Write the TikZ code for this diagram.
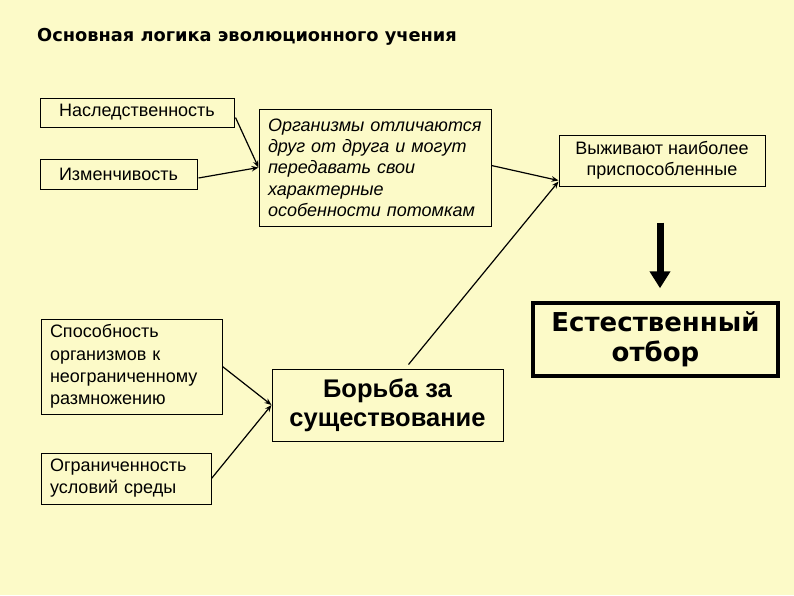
\documentclass[tikz,border=0pt]{standalone}
\usepackage{fontspec}
\setmainfont{Liberation Sans}
\newfontfamily\heavyfont{DejaVu Sans}
\usetikzlibrary{calc}
\usetikzlibrary{arrows.meta}
\definecolor{paper}{RGB}{252,250,200}

\tikzset{
  box/.style={draw, line width=1pt, fill=paper, inner xsep=9pt, inner ysep=0pt},
  link/.style={line width=1.2pt, -{Stealth[length=7pt,width=5.5pt]}},
  bigarrow/.style={line width=7pt, -{Triangle[length=17pt,width=20pt]}},
}

\begin{document}
\begin{tikzpicture}[x=1pt, y=-1pt]
        % фон
        \fill[paper] (0,0) rectangle (794,595);
        \useasboundingbox (0,0) rectangle (794,595);

        % заголовок
        \node[anchor=west, inner sep=0pt, font=\heavyfont\bfseries\fontsize{17.8}{20}\selectfont]
            (title) at (37,37) {Основная логика эволюционного учения};

        % наследственность, изменчивость
        \node[box, minimum width=194pt, minimum height=29pt, font=\fontsize{18}{21}\selectfont]
            (her) at (137,112.5) {Наследственность};
        \node[box, minimum width=157pt, minimum height=30pt, font=\fontsize{18}{21}\selectfont]
            (var) at (118.5,174) {Изменчивость};

        % организмы отличаются
        \node[box, minimum width=232pt, minimum height=117pt, text width=214pt, align=left,
              font=\itshape\fontsize{18}{21.3}\selectfont]
            (org) at (375,167.5) {Организмы отличаются\\друг от друга и могут\\передавать свои\\характерные\\особенности потомкам};

        % выживают наиболее приспособленные
        \node[box, minimum width=206pt, minimum height=51pt, align=center, font=\fontsize{18}{21}\selectfont]
            (surv) at (662,160.5) {Выживают наиболее\\приспособленные};

        % естественный отбор
        \node[box, line width=3.5pt, minimum width=245pt, minimum height=73pt, align=center,
              font=\heavyfont\bfseries\fontsize{26}{30}\selectfont]
            (sel) at (655.5,339.5) {Естественный\\отбор};

        % способность, ограниченность
        \node[box, minimum width=181pt, minimum height=95pt, text width=163pt, align=left,
              font=\fontsize{18}{22.3}\selectfont]
            (cap) at (131.5,366.5) {Способность\\организмов к\\неограниченному\\размножению};
        \node[box, minimum width=170pt, minimum height=51pt, text width=152pt, align=left,
              font=\fontsize{18}{22}\selectfont]
            (lim) at (126,478.5) {Ограниченность\\условий среды};

        % борьба за существование
        \node[box, minimum width=231pt, minimum height=72pt, align=center,
              font=\bfseries\fontsize{25.5}{29}\selectfont]
            (fight) at (387.5,405) {Борьба за\\существование};

        % стрелки
        \draw[link] ($(her.east)+(1,5)$) -- (org.west);
        \draw[link] ($(var.east)+(1,4)$) -- (org.west);
        \draw[link] ($(org.east)+(0,-2)$) -- ($(surv.south west)+(0,-6)$);
        \draw[link] ($(fight.north)+(21,-4)$) -- ($(surv.south west)+(0,-5)$);
        \draw[link] (cap.east) -- (fight.west);
        \draw[link] (lim.east) -- (fight.west);
        \draw[bigarrow] ($(surv.south)+(-2,36)$) -- ($(sel.north)+(4.5,-13)$);

\end{tikzpicture}
\end{document}
